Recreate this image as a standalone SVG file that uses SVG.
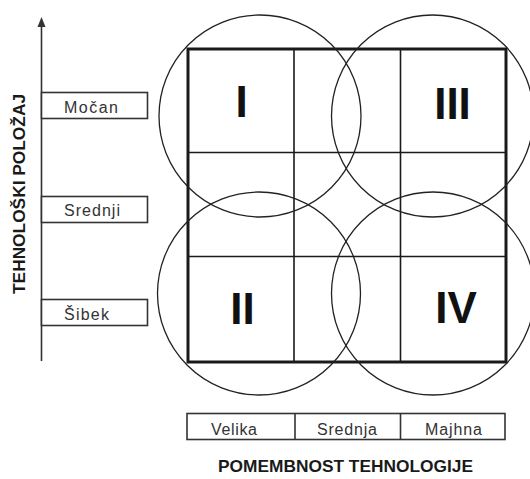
<svg xmlns="http://www.w3.org/2000/svg" width="530" height="479" viewBox="0 0 530 479">
<defs>
<style>
.bg{fill:#fff}
.box{fill:#fff;stroke:#333;stroke-width:1.6}
.lbl{font-family:"Liberation Sans",Arial,sans-serif;font-size:16px;fill:#333;text-anchor:middle}
.title{font-family:"Liberation Sans",Arial,sans-serif;font-size:17px;font-weight:bold;fill:#1a1a1a;text-anchor:middle}
.num{font-family:"Liberation Sans",Arial,sans-serif;font-size:44px;font-weight:bold;fill:#111;text-anchor:middle}
.grid{fill:none;stroke:#1a1a1a;stroke-width:1.6}
.outer{fill:none;stroke:#1a1a1a;stroke-width:3}
.circ{fill:none;stroke:#222;stroke-width:1.3}
.axis{stroke:#333;stroke-width:1.6;fill:none}
</style>
<marker id="arr" markerWidth="10" markerHeight="10" refX="5" refY="9" orient="auto" markerUnits="userSpaceOnUse" viewBox="0 0 10 10">
<path d="M1,10 L5,0 L9,10 Z" fill="#333"/>
</marker>
</defs>
<rect class="bg" x="0" y="0" width="530" height="479"/>

<g id="connectors">
<line class="axis" x1="41.5" y1="361" x2="41.5" y2="26"/>
<path d="M37.5,27 L41.5,17 L45.5,27 Z" fill="#333"/>
</g>

<g id="y-title">
<text class="title" transform="translate(25,194) rotate(-90)" x="0" y="0" textLength="200" lengthAdjust="spacingAndGlyphs">TEHNOLOŠKI POLOŽAJ</text>
</g>

<g id="mocan">
<rect class="box" x="41.5" y="92.5" width="106" height="26"/>
<text class="lbl" x="91" y="113" textLength="54" lengthAdjust="spacing">Močan</text>
</g>
<g id="srednji">
<rect class="box" x="41.5" y="196.5" width="106" height="26"/>
<text class="lbl" x="92" y="216" textLength="56" lengthAdjust="spacing">Srednji</text>
</g>
<g id="sibek">
<rect class="box" x="41.5" y="299.5" width="106" height="26"/>
<text class="lbl" x="86.5" y="320" textLength="45" lengthAdjust="spacing">Šibek</text>
</g>

<g id="matrix">
<line class="grid" x1="294" y1="49" x2="294" y2="362"/>
<line class="grid" x1="400.5" y1="49" x2="400.5" y2="362"/>
<line class="grid" x1="188" y1="152.5" x2="506" y2="152.5"/>
<line class="grid" x1="188" y1="256.5" x2="506" y2="256.5"/>
<rect class="outer" x="188" y="49" width="318" height="313"/>
</g>

<g id="circle-I"><circle class="circ" cx="260" cy="116" r="101"/></g>
<g id="circle-III"><circle class="circ" cx="432.5" cy="116" r="101"/></g>
<g id="circle-II"><circle class="circ" cx="259" cy="293.5" r="101.5"/></g>
<g id="circle-IV"><circle class="circ" cx="433" cy="293.5" r="101.5"/></g>

<g id="q-I"><text class="num" x="241.5" y="117">I</text></g>
<g id="q-III"><text class="num" x="452.5" y="119">III</text></g>
<g id="q-II"><text class="num" x="242.5" y="324">II</text></g>
<g id="q-IV"><text class="num" x="456" y="323">IV</text></g>

<g id="importance">
<rect class="box" x="187" y="413.5" width="318" height="26"/>
<line class="box" x1="295" y1="413.5" x2="295" y2="439.5"/>
<line class="box" x1="400.5" y1="413.5" x2="400.5" y2="439.5"/>
<text class="lbl" x="234" y="435" textLength="46" lengthAdjust="spacing">Velika</text>
<text class="lbl" x="347" y="435" textLength="60" lengthAdjust="spacing">Srednja</text>
<text class="lbl" x="453.5" y="435" textLength="57" lengthAdjust="spacing">Majhna</text>
</g>

<g id="x-title">
<text class="title" x="345.5" y="472" textLength="255" lengthAdjust="spacingAndGlyphs">POMEMBNOST TEHNOLOGIJE</text>
</g>
</svg>
